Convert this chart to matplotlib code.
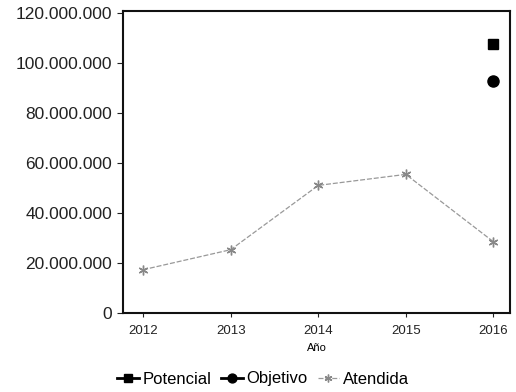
import matplotlib
matplotlib.use("Agg")
import matplotlib.pyplot as plt
from matplotlib.ticker import FuncFormatter

years = [2012, 2013, 2014, 2015, 2016]
atendida = [17.3e6, 25.3e6, 51.0e6, 55.4e6, 28.5e6]
potencial_year = [2016]
potencial = [107.5e6]
objetivo_year = [2016]
objetivo = [92.7e6]
yticks = [0, 20e6, 40e6, 60e6, 80e6, 100e6, 120e6]

plt.rcParams['font.family'] = ['Liberation Sans', 'DejaVu Sans']

fig = plt.figure(figsize=(5.16, 3.92), dpi=100)
ax = fig.add_axes([123/516, 1-313/392, (510-123)/516, (313-11)/392])

ax.plot(years, atendida, color='#999999', lw=0.9, ls=(0, (4, 1.5)),
        marker=(6, 2, 0), ms=7, mec='#888888', label='Atendida', zorder=2)
ax.plot(potencial_year, potencial, color='black', marker='s', ms=7, ls='-', lw=2,
        label='Potencial', zorder=3)
ax.plot(objetivo_year, objetivo, color='black', marker='o', ms=8, ls='-', lw=2,
        label='Objetivo', zorder=3)

ax.set_xlim(2011.77, 2016.19)
ax.set_ylim(0, 120.7e6)
ax.set_xticks(years)
ax.set_yticks(yticks)
ax.yaxis.set_major_formatter(FuncFormatter(lambda v, p: '0' if v == 0 else f"{int(v):,}".replace(',', '.')))
ax.tick_params(axis='y', labelsize=12.5, length=4, direction='out', pad=4, colors='#222222')
ax.tick_params(axis='x', labelsize=9.5, length=3, direction='out', pad=6, colors='#222222')
for s in ax.spines.values():
    s.set_linewidth(1.5)
    s.set_color('#111111')
ax.set_xlabel('Año', fontsize=8, labelpad=4)

h, l = ax.get_legend_handles_labels()
order = [1, 2, 0]
fig.legend([h[i] for i in order], [l[i] for i in order], loc='center',
           bbox_to_anchor=(263/516, 1-379/392), ncol=3, frameon=False,
           fontsize=12, handlelength=1.3, handletextpad=0.2, columnspacing=0.6,
           markerscale=0.8)

fig.savefig('out.png', dpi=100)
